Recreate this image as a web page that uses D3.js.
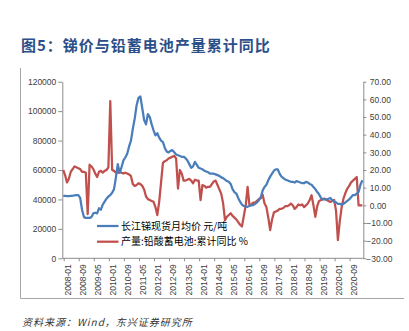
<!DOCTYPE html>
<html>
<head>
<meta charset="utf-8">
<script src="https://cdn.jsdelivr.net/npm/d3@7/dist/d3.min.js"></script>
<style>
  html, body { margin: 0; padding: 0; background: #fff; }
  svg { display: block; }
</style>
</head>
<body>
<svg id="chart" width="409" height="331"></svg>
<script>
// ---------- DATA ----------
const startYear = 2007, startMonth = 12, monthCount = 160; // 2007-12 .. 2021-03
const months = [];
for (let i = 0; i < monthCount; i++) {
  const t = (startYear * 12 + startMonth - 1) + i;
  const y = Math.floor(t / 12), m = t % 12 + 1;
  months.push(y + "-" + String(m).padStart(2, "0"));
}

// 长江锑现货月均价 (元/吨), monthly from 2007-12
const priceSeries = [
  42500,
  42500, 42300, 42300, 42500, 42500, 42800, 43000, 43000, 41000, 33000, 28000, 27500,
  27500, 27500, 28000, 30500, 31000, 30500, 34000, 33000, 36500, 38500, 40500, 42000,
  43000, 44500, 47000, 55000, 64000, 58000, 62000, 66500, 68500, 71000, 76000, 80000,
  88000, 95000, 104000, 109000, 110000, 102000, 94000, 91000, 98000, 96000, 91000, 87000,
  83500, 85000, 82000, 80000, 79000, 75000, 72500, 72000, 73000, 73500, 72000, 70500,
  70000, 69500, 69000, 69000, 68000, 66500, 64000, 61500, 62500, 65500, 63500, 61500,
  61000, 60500, 59500, 59000, 58500, 57500, 57500, 57500, 57000, 56500, 56000, 55000,
  54500, 53500, 52500, 52000, 50500, 47000, 45000, 44000, 41000, 38500, 36500, 35500,
  35000, 35000, 35500, 36000, 36200, 37000, 38000, 39500, 41500, 46000, 48500, 50000,
  53000, 55500, 57500, 59500, 60500, 60500, 57500, 55500, 54500, 53500, 53000, 52500,
  52000, 52000, 51500, 52500, 52000, 51500, 51000, 51000, 52000, 51500, 50500, 50000,
  48500, 47000, 45000, 43500, 41000, 40000, 40000, 40000, 40500, 41000, 39500, 38500,
  38000, 37000, 37000, 36500, 37000, 38000, 39000, 40000, 41500, 43000, 43000, 44000,
  45000, 50000, 53000
];

// 产量:铅酸蓄电池:累计同比 (%), monthly from 2007-12
const outputYoY = [
  20,
  17, 13, 15, 19, 20.5, 22, 21.5, 21, 20.5, 19, 19, 18.5,
  -5, 23, 22, 20.5, 18, 16, 19, 19.5, 18.5, 19.5, 20, 21.5,
  59, 20, 19.5, 18.5, 18.5, 19, 18.5, 18, 18.5, 18, 17.5, 16.5,
  12, 11, 11.5, 12.5, 12, 11, 9, 5, 3.5, 3, 2.5, 2,
  -1, -5.5, 2, 13, 24, 25, 25.5, 26.5, 27, 27.5, 28, 26.5,
  9.5, 20, 18, 14, 14, 14.5, 15, 14, 12.5, 14.5, 14, 14,
  3, 11.5, 11, 10, 10.5, 10.5, 12, 13.5, 14, 11.5, 9, 6.5,
  1, -8.5, -6.5, -5.5, -4.5, -6, -7, -8, -9.5, -11, -12, -6,
  0, 10.5, 0, 0.5, 1.5, 1.5, 2.5, 3.5, 4, 6, 1, -1,
  -7, -14, -8, -4, -3.5, -3, -2, -2, -1.5, -0.5, -0.5, 0,
  1, 0, -2, -1, 0.5, 0, 0.5, -1, 0, 1, 3, 5.7,
  0, -6.5, -0.5, 2.5, 3, 3.5, 3.8, 3, 2.5, 1.9, 2.5, 3,
  -3, -19.7, -9, -1, 4, 7, 9.5, 11, 13, 14, 15, 16,
  0, 0, 0
];

const xTickLabels = ["2008-01","2008-09","2009-05","2010-01","2010-09","2011-05","2012-01",
  "2012-09","2013-05","2014-01","2014-09","2015-05","2016-01","2016-09","2017-05","2018-01",
  "2018-09","2019-05","2020-01","2020-09"];
const leftTicks = [0, 20000, 40000, 60000, 80000, 100000, 120000];
const rightTicks = [-30, -20, -10, 0, 10, 20, 30, 40, 50, 60, 70];
const seriesNames = ["长江锑现货月均价 元/吨", "产量:铅酸蓄电池:累计同比 %"];
const titleText = "图5：锑价与铅蓄电池产量累计同比";
const sourceText = "资料来源：Wind，东兴证券研究所";

// ---------- LAYOUT ----------
const svg = d3.select("#chart");
const plot = { left: 62.3, right: 363.3, top: 81.7, bottom: 258.3 };
const blue = "#4A7EBB", red = "#C0504D", axisColor = "#8C8C8C", labelColor = "#404040";
const numFont = "'Liberation Sans', Arial, sans-serif";

svg.append("rect").attr("width", 409).attr("height", 331).attr("fill", "#fff");

// frame lines
svg.append("line").attr("x1", 20.5).attr("x2", 20.5).attr("y1", 68).attr("y2", 298.5)
  .attr("stroke", "#A6A6A6").attr("stroke-width", 1);
svg.append("line").attr("x1", 20.5).attr("x2", 404).attr("y1", 298.5).attr("y2", 298.5)
  .attr("stroke", "#A6A6A6").attr("stroke-width", 1);

// title
svg.append("text").attr("x", 21).attr("y", 51)
  .attr("font-family", "'Noto Sans CJK SC', sans-serif")
  .attr("font-weight", "bold").attr("font-size", 15).attr("letter-spacing", 1)
  .attr("fill", "#2B4F88").text(titleText);

// source
svg.append("text").attr("x", 22).attr("y", 326)
  .attr("font-family", "'Noto Sans CJK SC', sans-serif")
  .attr("font-style", "italic").attr("font-size", 10).attr("letter-spacing", 1)
  .attr("fill", "#333").text(sourceText);

// scales
const x = d3.scalePoint().domain(months).range([plot.left, plot.right]).padding(0.5);
const step = x.step();
const yL = d3.scaleLinear().domain([0, 120000]).range([plot.bottom, plot.top]);
const yR = d3.scaleLinear().domain([-30, 70]).range([plot.bottom, plot.top]);

// left axis
const gL = svg.append("g").attr("transform", `translate(${plot.left},0)`)
  .call(d3.axisLeft(yL).tickValues(leftTicks).tickSize(4).tickSizeOuter(0).tickPadding(2)
    .tickFormat(d3.format("d")));
// right axis
const gR = svg.append("g").attr("transform", `translate(${plot.right},0)`)
  .call(d3.axisRight(yR).tickValues(rightTicks).tickSize(3).tickSizeOuter(0).tickPadding(3)
    .tickFormat(d3.format(".2f")));
[gL, gR].forEach(g => {
  g.select(".domain").attr("stroke", axisColor);
  g.selectAll(".tick line").attr("stroke", axisColor);
  g.selectAll("text").attr("font-family", numFont).attr("font-size", 8.5).attr("fill", labelColor);
});
gR.selectAll(".tick text").attr("x", d => d < 0 ? 3 : 6.5);

// bottom axis
const gB = svg.append("g");
gB.append("line").attr("x1", plot.left).attr("x2", plot.right)
  .attr("y1", plot.bottom).attr("y2", plot.bottom).attr("stroke", axisColor);
gB.selectAll("line.tk").data(xTickLabels).join("line").attr("class", "tk")
  .attr("x1", d => x(d) - step / 2).attr("x2", d => x(d) - step / 2)
  .attr("y1", plot.bottom).attr("y2", plot.bottom + 3).attr("stroke", axisColor);
gB.selectAll("text").data(xTickLabels).join("text")
  .attr("transform", d => `translate(${x(d) + 3},${plot.bottom + 6}) rotate(-90)`)
  .attr("text-anchor", "end").attr("dy", "0.35em")
  .attr("font-family", numFont).attr("font-size", 8.5).attr("fill", labelColor)
  .text(d => d);

// lines
const priceLine = d3.line().x((d, i) => x(months[i])).y(d => yL(d));
const yoyLine = d3.line().x((d, i) => x(months[i])).y(d => yR(d));
svg.append("path").datum(outputYoY).attr("d", yoyLine)
  .attr("fill", "none").attr("stroke", red).attr("stroke-width", 2.25).attr("stroke-linejoin", "round");
svg.append("path").datum(priceSeries).attr("d", priceLine)
  .attr("fill", "none").attr("stroke", blue).attr("stroke-width", 2.25).attr("stroke-linejoin", "round");

// legend
const legend = svg.append("g");
const legendColors = [blue, red];
seriesNames.forEach((name, i) => {
  const ly = 226 + i * 15.7;
  legend.append("line").attr("x1", 97).attr("x2", 118.5).attr("y1", ly).attr("y2", ly)
    .attr("stroke", legendColors[i]).attr("stroke-width", 2.25);
  legend.append("text").attr("x", 121).attr("y", ly).attr("dy", "0.35em")
    .attr("font-family", "'Noto Sans CJK SC', sans-serif").attr("font-size", 10)
    .attr("fill", "#000").text(name);
});
</script>
</body>
</html>
